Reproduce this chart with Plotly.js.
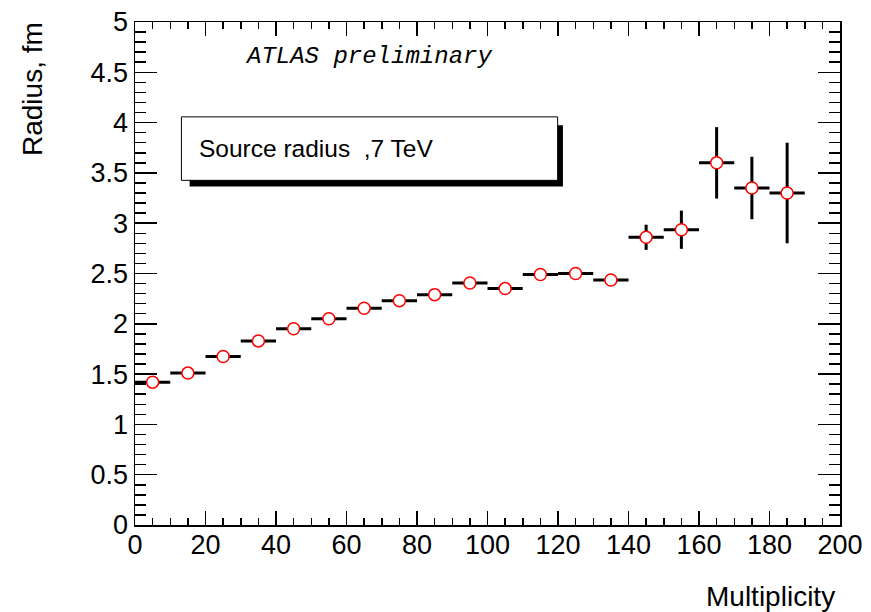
<!DOCTYPE html>
<html>
<head>
<meta charset="utf-8">
<script src="https://cdn.plot.ly/plotly-3.0.1.min.js"></script>
<style>html,body{margin:0;padding:0;background:#fff;}#chart{width:871px;height:612px;}</style>
</head>
<body>
<div id="chart"></div>
<script>
// Bin centres (multiplicity) and half-widths
var multiplicity = [5, 15, 25, 35, 45, 55, 65, 75, 85, 95, 105, 115, 125, 135, 145, 155, 165, 175, 185];
var binHalfWidth = [5, 5, 5, 5, 5, 5, 5, 5, 5, 5, 5, 5, 5, 5, 5, 5, 5, 5, 5];
// Source radius (fm) and its uncertainty
var radius = [1.42, 1.51, 1.675, 1.83, 1.95, 2.05, 2.155, 2.23, 2.29, 2.405, 2.35, 2.49, 2.50, 2.435, 2.86, 2.935, 3.60, 3.35, 3.30];
var radiusErr = [0.02, 0.02, 0.02, 0.02, 0.02, 0.02, 0.02, 0.02, 0.02, 0.03, 0.03, 0.03, 0.04, 0.04, 0.125, 0.19, 0.355, 0.31, 0.50];

var xTickVals = [0, 20, 40, 60, 80, 100, 120, 140, 160, 180, 200];
var yTickVals = [0, 0.5, 1, 1.5, 2, 2.5, 3, 3.5, 4, 4.5, 5];
var yTickText = ['0', '0.5', '1', '1.5', '2', '2.5', '3', '3.5', '4', '4.5', '5'];

var trace = {
  x: multiplicity,
  y: radius,
  type: 'scatter',
  mode: 'markers',
  marker: {symbol: 'circle', size: 12, color: '#ffffff', line: {color: '#ff0000', width: 1.5}},
  error_x: {type: 'data', array: binHalfWidth, visible: true, color: '#000000', thickness: 3, width: 0},
  error_y: {type: 'data', array: radiusErr, visible: true, color: '#000000', thickness: 3, width: 0},
  hoverinfo: 'x+y'
};

var tickFont = {family: 'Liberation Sans, Arial, sans-serif', size: 27, color: '#000'};

var layout = {
  width: 871, height: 612,
  margin: {l: 135, r: 31, t: 22, b: 87},
  paper_bgcolor: '#fff', plot_bgcolor: '#fff',
  showlegend: false,
  xaxis: {
    range: [0, 200], tickmode: 'array', tickvals: xTickVals,
    ticks: 'inside', ticklen: 14, tickwidth: 1.5, tickcolor: '#000',
    minor: {dtick: 5, ticks: 'inside', ticklen: 7, tickwidth: 1.5, tickcolor: '#000', showgrid: false},
    showline: true, linecolor: '#000', linewidth: 1.5, mirror: 'allticks',
    showgrid: false, zeroline: false, tickfont: tickFont, ticklabelstandoff: -5
  },
  yaxis: {
    range: [0, 5], tickmode: 'array', tickvals: yTickVals, ticktext: yTickText,
    ticks: 'inside', ticklen: 22, tickwidth: 1.5, tickcolor: '#000',
    minor: {dtick: 0.1, ticks: 'inside', ticklen: 11, tickwidth: 1.5, tickcolor: '#000', showgrid: false},
    showline: true, linecolor: '#000', linewidth: 1.5, mirror: 'allticks',
    showgrid: false, zeroline: false, tickfont: tickFont
  },
  shapes: [
    {type: 'rect', xref: 'x', yref: 'y', x0: 15.5, x1: 121.4, y0: 3.366, y1: 3.973,
     fillcolor: '#000', line: {width: 0}, layer: 'above'},
    {type: 'rect', xref: 'x', yref: 'y', x0: 13.17, x1: 119.9, y0: 3.426, y1: 4.057,
     fillcolor: '#fff', line: {color: '#000', width: 1}, layer: 'above'}
  ],
  annotations: [
    {text: 'Source radius\u00a0 ,7 TeV', xref: 'x', yref: 'y', x: 17.5, y: 3.744,
     xanchor: 'left', yanchor: 'middle', showarrow: false,
     font: {family: 'Liberation Sans, Arial, sans-serif', size: 24.5, color: '#000'}},
    {text: 'ATLAS preliminary', xref: 'x', yref: 'y', x: 66.1, y: 4.657,
     xanchor: 'center', yanchor: 'middle', showarrow: false,
     font: {family: 'Liberation Mono, Courier New, monospace', size: 24, color: '#000', style: 'italic'}},
    {text: 'Radius, fm', xref: 'paper', yref: 'paper', x: 0, y: 1, xshift: -103, yshift: 2,
     xanchor: 'center', yanchor: 'top', textangle: -90, showarrow: false,
     font: {family: 'Liberation Sans, Arial, sans-serif', size: 28, color: '#000'}},
    {text: 'Multiplicity', xref: 'paper', yref: 'paper', x: 1, y: 0, xshift: -3, yshift: -71,
     xanchor: 'right', yanchor: 'middle', showarrow: false,
     font: {family: 'Liberation Sans, Arial, sans-serif', size: 28, color: '#000'}}
  ]
};

Plotly.newPlot('chart', [trace], layout, {displayModeBar: false, staticPlot: true});
</script>
</body>
</html>
